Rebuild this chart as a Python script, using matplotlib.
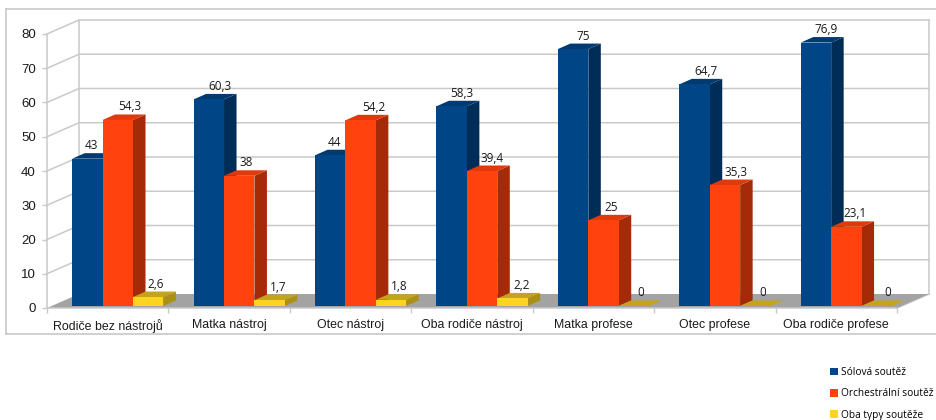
import matplotlib
matplotlib.use("Agg")
import matplotlib.pyplot as plt
from matplotlib.patches import Polygon, Patch
from matplotlib.lines import Line2D

categories = ["Rodiče bez nástrojů", "Matka nástroj", "Otec nástroj", "Oba rodiče nástroj",
              "Matka profese", "Otec profese", "Oba rodiče profese"]
solo = [43, 60.3, 44, 58.3, 75, 64.7, 76.9]
orchestral = [54.3, 38, 54.2, 39.4, 25, 35.3, 23.1]
both = [2.6, 1.7, 1.8, 2.2, 0, 0, 0]
series_names = ["Sólová soutěž", "Orchestrální soutěž", "Oba typy soutěže"]
y_ticks = [0, 10, 20, 30, 40, 50, 60, 70, 80]

# style: front, side, top colours
colors = [("#004586", "#002c58", "#003a70"),
          ("#ff420e", "#a52a08", "#e03a0c"),
          ("#ffd320", "#ab9015", "#c4a41c")]
# label shift in px right of each bar's centre
shifts = [[4, 11, 4, 10, 10, 11, 10],
          [12, 7, 13, 10, 8, 11, 9],
          [7, 9, 8, 9, 7, 7, 11]]

W, H = 936, 420
fig = plt.figure(figsize=(W / 100, H / 100), dpi=100, facecolor="white")
ax = fig.add_axes([47 / W, (H - 308) / H, 850 / W, 274 / H])
n = len(categories)
ax.set_xlim(0, n)
ax.set_ylim(0, 80)
ax.patch.set_visible(False)

GRID = "#c9c9c9"
wx, wy = 32 / (850 / n), 14 / (274 / 80)   # wall depth in data units
bx, by = 12.5 / (850 / n), 5.5 / (274 / 80)  # bar depth in data units
bw = 30.4 / (850 / n)
b0 = 25.2 / (850 / n)
lift = 0.6

# floor and walls
ax.add_patch(Polygon([(0, 0), (wx, wy), (n + wx, wy), (n, 0)], closed=True, fc="#a3a3a3", ec="none",
                     clip_on=False, zorder=1))
for v in y_ticks[1:]:
    ax.plot([0, wx, n + wx], [v, v + wy, v + wy], color=GRID, lw=1.1, clip_on=False, zorder=0.5)
ax.plot([wx, wx], [wy, 80 + wy], color=GRID, lw=1.1, clip_on=False, zorder=0.5)
ax.plot([n + wx, n + wx], [wy, 80 + wy], color=GRID, lw=1.1, clip_on=False, zorder=0.5)
ax.plot([n, n + wx], [0, wy], color=GRID, lw=1.1, clip_on=False, zorder=0.5)

# bars
z = 2
for c in range(n):
    for s, vals in enumerate([solo, orchestral, both]):
        v = vals[c]
        x0 = c + b0 + s * bw
        top = lift + v
        front, side, topc = colors[s]
        ax.add_patch(Polygon([(x0 + bw, lift), (x0 + bw + bx, lift + by), (x0 + bw + bx, top + by), (x0 + bw, top)],
                             closed=True, fc=side, ec="none", clip_on=False, zorder=z))
        ax.add_patch(Polygon([(x0, top), (x0 + bx, top + by), (x0 + bw + bx, top + by), (x0 + bw, top)],
                             closed=True, fc=topc, ec="none", clip_on=False, zorder=z))
        if v > 0:
            ax.bar(x0, v, width=bw, bottom=lift, align="edge", color=front, lw=0, clip_on=False, zorder=z + 0.5)
        label = ("%g" % v).replace(".", ",")
        ax.annotate(label, (x0 + bw / 2, top), xytext=(shifts[s][c] * 0.72, 13 * 0.72),
                    textcoords="offset points", ha="center", va="center", fontsize=8.5,
                    family="Open Sans", color="#1a1a1a", zorder=50, annotation_clip=False)
        z += 1

# axes
for side in ("top", "right"):
    ax.spines[side].set_visible(False)
for side in ("left", "bottom"):
    ax.spines[side].set_color(GRID)
    ax.spines[side].set_linewidth(1.1)
    ax.spines[side].set_zorder(1.5)
ax.set_yticks(y_ticks)
ax.set_xticks(range(n + 1))
ax.set_xticklabels([])
ax.set_xticks([i + 0.5 for i in range(n)], minor=True)
ax.set_xticklabels(categories, minor=True, fontsize=8.9, family="Liberation Sans", color="#1a1a1a")
ax.tick_params(axis="x", which="minor", length=0, pad=8)
ax.tick_params(axis="x", which="major", length=3.5, color=GRID, width=1)
ax.tick_params(axis="y", length=3.5, color=GRID, width=1, pad=4.5, labelsize=9.5, labelcolor="#1a1a1a")
for t in ax.get_yticklabels():
    t.set_family("Liberation Sans")

# outer frame
for xs, ys in [((6, 6), (9, 334)), ((6, W), (9, 9)), ((6, W), (334, 334))]:
    fig.add_artist(Line2D([x / W for x in xs], [1 - y / H for y in ys], color="#c4c4c4", lw=1.1))

# legend
handles = [Patch(fc=colors[i][0], ec="none") for i in range(3)]
fig.legend(handles, series_names, loc="upper left", bbox_to_anchor=(826.5 / W, 1 - 364 / H), frameon=False,
           prop={"family": "Open Sans", "size": 7.3}, handlelength=0.8, handleheight=0.8,
           handletextpad=0.35, labelspacing=1.02, borderaxespad=0, borderpad=0.3)

fig.savefig("out.png", dpi=100, facecolor="white")
